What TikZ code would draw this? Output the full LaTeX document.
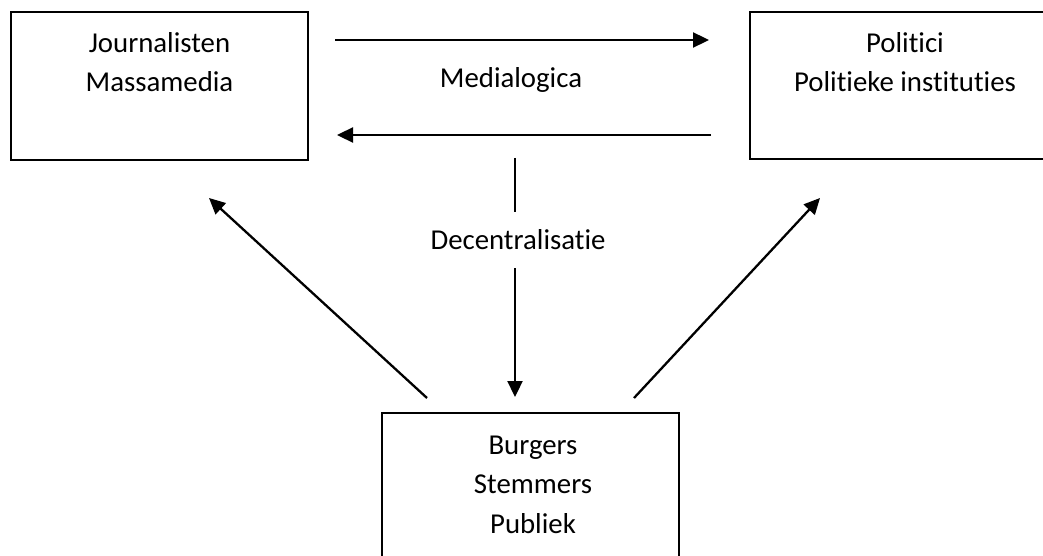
\documentclass[tikz,border=0pt]{standalone}
\usepackage{fontspec}
\setmainfont{Carlito}[Ligatures={NoCommon,NoContextual}]
\usetikzlibrary{arrows.meta}

\begin{document}
\begin{tikzpicture}[x=1pt,y=-1pt,
  box/.style={draw,line width=1.7pt,minimum width=297pt,inner sep=0pt},
  lbl/.style={anchor=base,align=center,inner sep=0pt,font=\fontsize{28.8}{39.5}\selectfont},
  pijl/.style={line width=2.3pt,-{Triangle[length=16pt,width=15pt]}}]
\clip (0,0) rectangle (1043,556);
\node[box,minimum height=148pt](jm) at (159.5,86){};
\node[box,minimum height=147pt](pp) at (898.5,85.5){};
\node[box,minimum height=170pt](bsp) at (530.5,498){};
% base = basislijn van de laatste regel
\node[lbl](jmtxt) at (159.5,92){Journalisten\\Massamedia};
\node[lbl](pptxt) at (905,92){Politici\\Politieke instituties};
\node[lbl](bsptxt) at (533,533){Burgers\\Stemmers\\Publiek};
\node[lbl](medialogica) at (511,88){Medialogica};
\node[lbl](decentr) at (518,249){Decentralisatie};
% eindpunten van de pijlen
\coordinate (ml0) at (335,40); \coordinate (ml1) at (709,40);
\coordinate (lm0) at (711,135); \coordinate (lm1) at (337,135);
\coordinate (dc0) at (515,158); \coordinate (dc1) at (515,212);
\coordinate (dc2) at (515,268); \coordinate (dc3) at (515,397);
\coordinate (bj0) at (427,398); \coordinate (bj1) at (209,198);
\coordinate (bp0) at (634,398); \coordinate (bp1) at (820,198);
\draw[pijl](ml0)--(ml1);
\draw[pijl](lm0)--(lm1);
\draw[line width=1.6pt](dc0)--(dc1);
\draw[pijl](dc2)--(dc3);
\draw[pijl](bj0)--(bj1);
\draw[pijl](bp0)--(bp1);
\end{tikzpicture}
\end{document}
